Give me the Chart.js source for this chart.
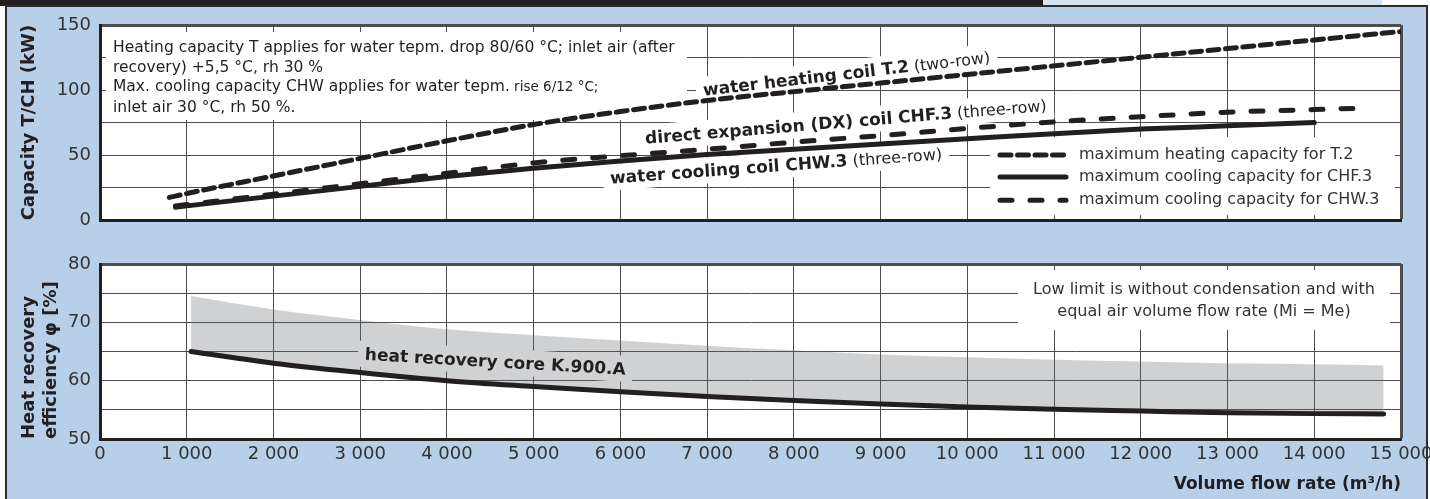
<!DOCTYPE html>
<html>
<head>
<meta charset="utf-8">
<script src="https://cdn.jsdelivr.net/npm/chart.js@4.4.1/dist/chart.umd.min.js"></script>
<style>
  html, body { margin: 0; padding: 0; background: #fff; overflow: hidden; }
  body { width: 1430px; height: 499px; position: relative; }
  #bar { position: absolute; left: 0; top: 0; width: 1043px; height: 6px; background: #231f20; }
  #tab { position: absolute; left: 1043px; top: 0; width: 339px; height: 5px; background: #d4e2f2; }
  #panel { position: absolute; left: 5px; top: 5px; width: 1423px; height: 520px; box-sizing: border-box;
           border: 2px solid #2b2b2b; background: #b8cfe9; }
  canvas { position: absolute; left: 0; }
  #capChart { top: 0; }
  #effChart { top: 240px; }
</style>
</head>
<body>
<div id="bar"></div>
<div id="tab"></div>
<div id="panel"></div>
<canvas id="capChart" width="1460" height="240"></canvas>
<canvas id="effChart" width="1460" height="259"></canvas>
<script>
// values
const flowHeat = [800, 1000, 2000, 3000, 4000, 5000, 6000, 7000, 8000, 9000, 10000, 11000, 12000, 13000, 14000, 15000];
const heatT2 = [17.5, 20.5, 34, 47.5, 61, 73.5, 83.5, 92, 98.8, 105.4, 112, 118.6, 125.2, 131.9, 138.5, 145];

const flowCHF = [870, 1000, 2000, 3000, 4000, 5000, 6000, 7000, 8000, 9000, 10000, 11000, 12000, 13000, 14000];
const coolCHF3 = [10, 11, 18.5, 26, 33.5, 40, 45.5, 50.5, 54.5, 58.5, 62.5, 66.5, 70, 72.5, 75];

const flowCHW = [870, 1000, 2000, 3000, 4000, 5000, 6000, 7000, 8000, 9000, 10000, 11000, 12000, 13000, 14000, 14500];
const coolCHW3 = [11, 12, 20, 28, 36, 44, 49.5, 54.5, 60, 65, 70.5, 75.5, 79.5, 83, 85, 86];

const flowRec = [1050, 2000, 3000, 4000, 5000, 6000, 7000, 8000, 9000, 10000, 11000, 12000, 13000, 14000, 14800];
const recLow = [65, 63, 61.4, 60, 59, 58.1, 57.3, 56.6, 56, 55.5, 55.1, 54.8, 54.5, 54.35, 54.3];
const recHigh = [74.5, 72.2, 70.4, 68.8, 67.8, 66.9, 66, 65.2, 64.5, 64, 63.6, 63.3, 63, 62.8, 62.6];

const capTicks = [0, 50, 100, 150];
const effTicks = [50, 60, 70, 80];

const coilTags = [
  { x: 6953, y: 100.2, angle: -6.6, bold: 'water heating coil T.2', rest: ' (two-row)' },
  { x: 6284, y: 63.3, angle: -4.7, bold: 'direct expansion (DX) coil CHF.3', rest: ' (three-row)' },
  { x: 5880, y: 32.7, angle: -4.2, bold: 'water cooling coil CHW.3', rest: ' (three-row)' }
];
const coreTag = { x: 3055, y: 64.6, angle: 3.3, bold: 'heat recovery core K.900.A', rest: '' };

const capNote = [
  [['Heating capacity T applies for water tepm. drop 80/60 °C; inlet air (after', 15.5]],
  [['recovery) +5,5 °C, rh 30 %', 15.5]],
  [['Max. cooling capacity CHW applies for water tepm.', 15.5], [' rise 6/12 °C;', 13.5]],
  [['inlet air 30 °C, rh 50 %.', 15.5]]
];
const effNote = ['Low limit is without condensation and with', 'equal air volume flow rate (Mi = Me)'];

const ink = '#231f20';
const gridInk = '#4d4d4d';
const bandSolid = '#d1d2d4';
const bandFill = 'rgba(100, 103, 110, 0.3)';
Chart.defaults.font.family = '"DejaVu Sans", sans-serif';

const pts = (xs, ys) => xs.map((x, i) => ({ x: x, y: ys[i] }));
const flowLabel = v => v === 0 ? '0' : Math.round(v / 1000) + ' 000';

function gridFor(max) {
  return {
    color: gridInk,
    lineWidth: c => (c.tick && c.tick.value === max ? 3 : 1),
    drawTicks: false
  };
}

function drawTag(ctx, x, y, tag, bg) {
  ctx.save();
  ctx.translate(x, y);
  ctx.rotate(tag.angle * Math.PI / 180);
  ctx.font = 'bold 17px "DejaVu Sans"';
  const wb = ctx.measureText(tag.bold).width;
  ctx.font = '16px "DejaVu Sans"';
  const wr = tag.rest ? ctx.measureText(tag.rest).width : 0;
  ctx.fillStyle = bg;
  ctx.fillRect(-7, -13, wb + wr + 14, 26);
  ctx.fillStyle = ink;
  ctx.textBaseline = 'alphabetic';
  ctx.font = 'bold 17px "DejaVu Sans"';
  ctx.fillText(tag.bold, 0, 6);
  if (tag.rest) {
    ctx.font = '16px "DejaVu Sans"';
    ctx.fillText(tag.rest, wb, 6);
  }
  ctx.restore();
}

const plotBg = {
  id: 'plotBg',
  beforeDraw(chart) {
    const { ctx, chartArea: a } = chart;
    ctx.save();
    ctx.fillStyle = '#fff';
    ctx.fillRect(a.left, a.top, a.right - a.left, a.bottom - a.top);
    ctx.restore();
  }
};

const capExtras = {
  id: 'capExtras',
  beforeDatasetsDraw(chart) {
    const { ctx, chartArea: a, scales } = chart;
    ctx.save();
    // note box
    ctx.fillStyle = '#fff';
    ctx.fillRect(a.left + 6, a.top + 7, 581, 88);
    ctx.fillStyle = ink;
    ctx.textBaseline = 'middle';
    const rows = [23, 43, 62, 82.5];
    capNote.forEach((line, i) => {
      let x = a.left + 13;
      line.forEach(([txt, size]) => {
        ctx.font = size + 'px "DejaVu Sans"';
        ctx.fillText(txt, x, a.top + rows[i]);
        x += ctx.measureText(txt).width;
      });
    });
    // curve labels
    coilTags.forEach(t => {
      drawTag(ctx, scales.x.getPixelForValue(t.x), scales.y.getPixelForValue(t.y), t, '#fff');
    });
    // legend
    const lx = a.right - 411, ly = a.bottom - 83;
    ctx.fillStyle = '#fff';
    ctx.fillRect(lx, ly, 405, 78);
    const rowY = [17.7, 39.7, 63];
    chart.data.datasets.forEach((ds, i) => {
      const y = ly + rowY[i];
      ctx.beginPath();
      ctx.strokeStyle = ds.borderColor;
      ctx.lineWidth = ds.borderWidth;
      ctx.lineCap = 'round';
      ctx.setLineDash(ds.borderDash || []);
      ctx.moveTo(lx + 10, y);
      ctx.lineTo(lx + 76, y);
      ctx.stroke();
      ctx.setLineDash([]);
      ctx.fillStyle = '#333';
      ctx.font = '16px "DejaVu Sans"';
      ctx.fillText(ds.label, lx + 89, y);
    });
    ctx.restore();
  }
};

const effExtras = {
  id: 'effExtras',
  beforeDatasetsDraw(chart) {
    const { ctx, chartArea: a } = chart;
    ctx.save();
    ctx.fillStyle = '#fff';
    ctx.fillRect(a.right - 383, a.top + 6, 372, 60);
    ctx.fillStyle = '#333';
    ctx.font = '16px "DejaVu Sans"';
    ctx.textAlign = 'center';
    ctx.textBaseline = 'middle';
    ctx.fillText(effNote[0], a.right - 197, a.top + 26);
    ctx.fillText(effNote[1], a.right - 197, a.top + 47.7);
    ctx.restore();
  },
  afterDatasetsDraw(chart) {
    const { ctx, scales } = chart;
    drawTag(ctx, scales.x.getPixelForValue(coreTag.x), scales.y.getPixelForValue(coreTag.y), coreTag, bandSolid);
  }
};

const tickFont = { size: 18 };
const titleFont = { size: 18, weight: 'bold', lineHeight: 1.2 };

new Chart(document.getElementById('capChart'), {
  type: 'line',
  data: {
    datasets: [
      { label: 'maximum heating capacity for T.2', data: pts(flowHeat, heatT2), borderColor: ink, borderWidth: 5,
        borderDash: [11, 6.5], borderCapStyle: 'round', pointRadius: 0, cubicInterpolationMode: 'monotone' },
      { label: 'maximum cooling capacity for CHF.3', data: pts(flowCHF, coolCHF3), borderColor: ink, borderWidth: 5,
        borderCapStyle: 'round', pointRadius: 0, cubicInterpolationMode: 'monotone' },
      { label: 'maximum cooling capacity for CHW.3', data: pts(flowCHW, coolCHW3), borderColor: ink, borderWidth: 5,
        borderDash: [12, 18], borderCapStyle: 'round', pointRadius: 0, cubicInterpolationMode: 'monotone' }
    ]
  },
  options: {
    responsive: false,
    animation: false,
    layout: { padding: { left: 0, right: 59, top: 25, bottom: 0 } },
    plugins: { legend: { display: false }, tooltip: { enabled: false } },
    scales: {
      x: {
        type: 'linear', min: 0, max: 15000,
        ticks: { stepSize: 1000, display: false },
        grid: gridFor(15000),
        border: { color: ink, width: 3 },
        afterFit: s => { s.height = 4; }
      },
      y: {
        min: 0, max: 150,
        ticks: { stepSize: 25, padding: 9, color: '#333', font: tickFont,
                 callback: v => (capTicks.includes(v) ? String(v) : '') },
        grid: gridFor(150),
        border: { color: ink, width: 3 },
        title: { display: true, text: 'Capacity T/CH (kW)', color: ink, font: titleFont, padding: { top: 19 } },
        afterFit: s => { s.width = 100; }
      }
    }
  },
  plugins: [plotBg, capExtras]
});

new Chart(document.getElementById('effChart'), {
  type: 'line',
  data: {
    datasets: [
      { label: 'upper limit', data: pts(flowRec, recHigh), borderColor: 'rgba(0,0,0,0)', borderWidth: 0,
        backgroundColor: bandFill, fill: '+1', pointRadius: 0, cubicInterpolationMode: 'monotone', order: 2 },
      { label: 'heat recovery core K.900.A', data: pts(flowRec, recLow), borderColor: ink, borderWidth: 5,
        borderCapStyle: 'round', pointRadius: 0, cubicInterpolationMode: 'monotone', order: 1 }
    ]
  },
  options: {
    responsive: false,
    animation: false,
    layout: { padding: { left: 0, right: 59, top: 24, bottom: 0 } },
    plugins: { legend: { display: false }, tooltip: { enabled: false } },
    scales: {
      x: {
        type: 'linear', min: 0, max: 15000,
        ticks: { stepSize: 1000, padding: 5, color: '#333', font: tickFont, maxRotation: 0, callback: flowLabel },
        grid: gridFor(15000),
        border: { color: ink, width: 3 },
        title: { display: true, text: 'Volume flow rate (m³/h)', align: 'end', color: ink,
                 font: { size: 17, weight: 'bold', lineHeight: 1.2 }, padding: { top: 0, bottom: 4 } },
        afterFit: s => { s.height = 60; }
      },
      y: {
        min: 50, max: 80,
        ticks: { stepSize: 5, padding: 9, color: '#333', font: tickFont,
                 callback: v => (effTicks.includes(v) ? String(v) : '') },
        grid: gridFor(80),
        border: { color: ink, width: 3 },
        title: { display: true, text: ['Heat recovery', 'efficiency φ [%]'], align: 'start', color: ink,
                 font: titleFont, padding: { top: 19 } },
        afterFit: s => { s.width = 100; }
      }
    }
  },
  plugins: [plotBg, effExtras]
});
</script>
</body>
</html>
